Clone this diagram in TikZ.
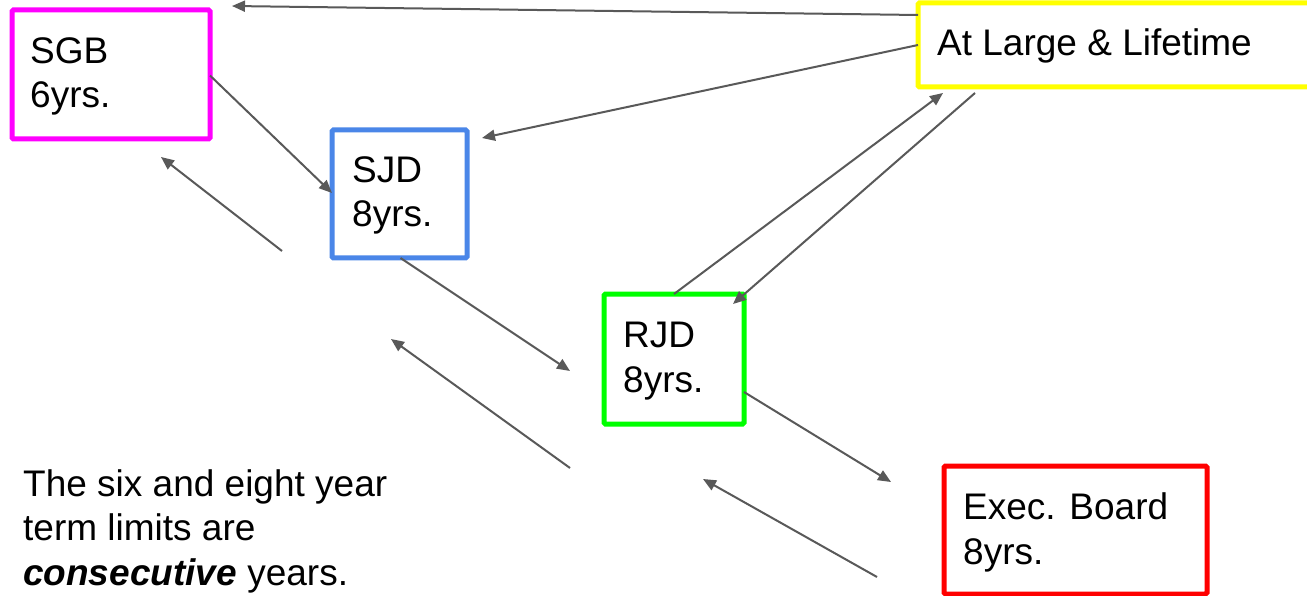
\documentclass[tikz,border=0pt]{standalone}
\usepackage{fontspec}
\setmainfont{Liberation Sans}
\usetikzlibrary{arrows.meta}
\definecolor{arrowgray}{HTML}{595959}
\definecolor{cmag}{HTML}{FF00FF}
\definecolor{cblue}{HTML}{4A86E8}
\definecolor{cgreen}{HTML}{00FF00}
\definecolor{cyellow}{HTML}{FFFF00}
\definecolor{cred}{HTML}{FF0000}
\tikzset{
  termbox/.style={draw=#1, line width=5pt, rounded corners=1.5pt, inner sep=0pt, outer sep=0pt, anchor=north west, fill=white},
  lbl/.style={font=\fontsize{37}{44.5}\selectfont, anchor=base west, inner sep=0pt, align=left},
  link/.style={draw=arrowgray, line width=2pt, -{Triangle[length=13pt,width=11pt]}}
}
\begin{document}
\begin{tikzpicture}[x=1pt,y=-1pt]
\useasboundingbox[fill=white] (0,0) rectangle (1307,596);
% boxes
\node[termbox=cmag, minimum width=198pt, minimum height=129pt] (sgb) at (12,10) {};
\node[termbox=cblue, minimum width=135pt, minimum height=128pt] (sjd) at (332,130) {};
\node[termbox=cgreen, minimum width=140pt, minimum height=130pt] (rjd) at (604,294) {};
\node[termbox=cyellow, minimum width=395pt, minimum height=84pt] (yel) at (918,3) {};
\node[termbox=cred, minimum width=263pt, minimum height=128pt] (exec) at (944,466) {};
% texts (anchored at the baseline of the last line)
\node[lbl] (tsgb) at (30,108) {SGB\\6yrs.};
\node[lbl] (tsjd) at (352,227) {SJD\\8yrs.};
\node[lbl] (trjd) at (623,392) {RJD\\8yrs.};
\node[lbl] (tyel) at (937,56) {At Large \& Lifetime};
\node[lbl] (texec) at (963,564) {Exec. Board\\8yrs.};
\node[lbl] (note) at (23,585) {The six and eight year\\term limits are\\\textbf{\textit{consecutive}} years.};
% free ends
\coordinate (c1) at (232,6);
\coordinate (c2) at (482,138);
\coordinate (c3) at (943,93);
\coordinate (c4s) at (975,93);
\coordinate (c4) at (733,304);
\coordinate (c6s) at (282,251);
\coordinate (c6) at (161,157);
\coordinate (c7) at (570,371);
\coordinate (c8s) at (570,468);
\coordinate (c8) at (391,339);
\coordinate (c9) at (891,482);
\coordinate (c10s) at (877,577);
\coordinate (c10) at (703,479);
% connectors
\draw[link] ([yshift=30pt]yel.west) -- (c1);
\draw[link] (yel.west) -- (c2);
\draw[link] (rjd.north) -- (c3);
\draw[link] (c4s) -- (c4);
\draw[link] ([yshift=-1pt]sgb.east) -- ([yshift=1pt]sjd.west);
\draw[link] (c6s) -- (c6);
\draw[link] ([xshift=1pt]sjd.south) -- (c7);
\draw[link] (c8s) -- (c8);
\draw[link] ([yshift=-33pt]rjd.east) -- (c9);
\draw[link] (c10s) -- (c10);
\end{tikzpicture}
\end{document}
